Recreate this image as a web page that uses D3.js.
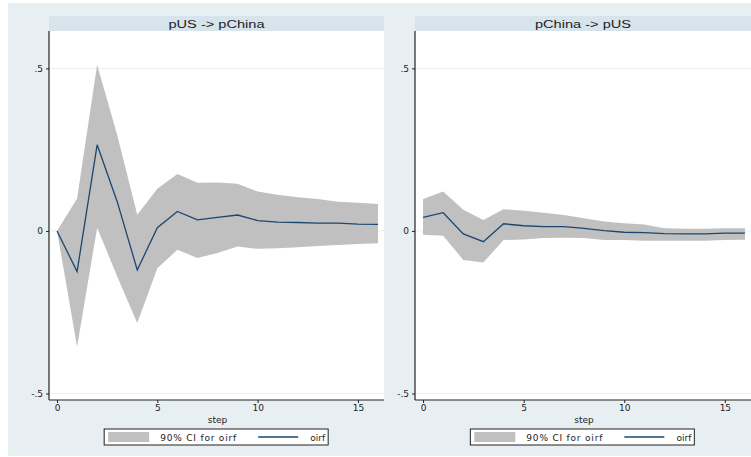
<!DOCTYPE html>
<html>
<head>
<meta charset="utf-8">
<script src="https://cdn.jsdelivr.net/npm/d3@7"></script>
<style>
  body { margin: 0; background: #fff; }
  svg { display: block; font-family: "DejaVu Sans", sans-serif; }
</style>
</head>
<body>
<div id="app"></div>
<script>
"use strict";

// impulse response steps
const steps = [0, 1, 2, 3, 4, 5, 6, 7, 8, 9, 10, 11, 12, 13, 14, 15, 16];

// pUS -> pChina
const usChinaOirf  = [0, -0.125, 0.265, 0.09, -0.12, 0.01, 0.06, 0.034, 0.042, 0.049, 0.032, 0.027, 0.026, 0.024, 0.024, 0.021, 0.02];
const usChinaUpper = [0, 0.10, 0.511, 0.295, 0.05, 0.13, 0.175, 0.148, 0.149, 0.145, 0.121, 0.111, 0.104, 0.098, 0.09, 0.087, 0.083];
const usChinaLower = [0, -0.356, 0.01, -0.14, -0.283, -0.115, -0.058, -0.083, -0.068, -0.048, -0.055, -0.053, -0.05, -0.046, -0.043, -0.04, -0.038];

// pChina -> pUS
const chinaUsOirf  = [0.042, 0.056, -0.009, -0.033, 0.022, 0.016, 0.013, 0.013, 0.008, 0.001, -0.004, -0.005, -0.008, -0.009, -0.009, -0.007, -0.007];
const chinaUsUpper = [0.098, 0.121, 0.065, 0.034, 0.067, 0.062, 0.056, 0.049, 0.039, 0.029, 0.024, 0.02, 0.008, 0.007, 0.007, 0.008, 0.008];
const chinaUsLower = [-0.012, -0.015, -0.089, -0.097, -0.028, -0.026, -0.022, -0.021, -0.022, -0.028, -0.028, -0.03, -0.03, -0.03, -0.03, -0.028, -0.027];

const xTicks = [0, 5, 10, 15];
const yTicks = [-0.5, 0, 0.5];
const yTickLabels = ["-.5", "0", ".5"];
const legendLabels = ["90% CI for oirf", "oirf"];

const panels = [
    { title: "pUS -> pChina", oirf: usChinaOirf, upper: usChinaUpper, lower: usChinaLower, left: 49, right: 384 },
    { title: "pChina -> pUS", oirf: chinaUsOirf, upper: chinaUsUpper, lower: chinaUsLower, left: 415, right: 751 }
];

const W = 751, H = 457;
const plotTop = 31, plotBottom = 400;
const bandColor = "#c0c0c0";
const lineColor = "#1a476f";
const bgColor = "#e8eff3";
const stripColor = "#d8e4eb";
const textColor = "#222";

const svg = d3.select("#app").append("svg")
    .attr("width", W)
    .attr("height", H);

// graph region background
svg.append("rect")
    .attr("x", 8).attr("y", 3)
    .attr("width", W - 8).attr("height", 453)
    .attr("fill", bgColor);

/**
 * Draws one irf panel
 *
 * @param {Object} p panel config
 */
const drawPanel = (p) => {
    const x = d3.scaleLinear().domain([-0.4, 16.3]).range([p.left, p.right]);
    const y = d3.scaleLinear().domain([-0.52, 0.615]).range([plotBottom, plotTop]);
    const g = svg.append("g");
    const cx = (p.left + p.right) / 2;

    // title strip
    g.append("rect")
        .attr("x", p.left).attr("y", 16)
        .attr("width", p.right - p.left).attr("height", plotTop - 16)
        .attr("fill", stripColor);
    // source text looks horizontally stretched, so scale x a bit
    g.append("text")
        .attr("transform", `translate(${cx},28) scale(1.27,1)`)
        .attr("text-anchor", "middle")
        .attr("font-family", "\"Liberation Sans\", Arial, sans-serif")
        .attr("font-size", 11.5)
        .attr("fill", textColor)
        .text(p.title);

    // plot region
    g.append("rect")
        .attr("x", p.left).attr("y", plotTop)
        .attr("width", p.right - p.left).attr("height", plotBottom - plotTop)
        .attr("fill", "#fff");

    // grid lines
    g.selectAll(".grid").data(yTicks).join("line")
        .attr("x1", p.left).attr("x2", p.right)
        .attr("y1", d => y(d)).attr("y2", d => y(d))
        .attr("stroke", "#edf2f5")
        .attr("stroke-width", 1.2);

    const rows = steps.map((s, i) => ({ s, v: p.oirf[i], hi: p.upper[i], lo: p.lower[i] }));

    // confidence band
    g.append("path")
        .datum(rows)
        .attr("fill", bandColor)
        .attr("d", d3.area().x(d => x(d.s)).y0(d => y(d.lo)).y1(d => y(d.hi)));

    // oirf line
    g.append("path")
        .datum(rows)
        .attr("fill", "none")
        .attr("stroke", lineColor)
        .attr("stroke-width", 1.3)
        .attr("d", d3.line().x(d => x(d.s)).y(d => y(d.v)));

    // axes
    const yAxis = g.append("g")
        .attr("transform", `translate(${p.left},0)`)
        .call(d3.axisLeft(y).tickValues(yTicks).tickSize(3).tickPadding(3)
            .tickFormat((d, i) => yTickLabels[i]));
    const xAxis = g.append("g")
        .attr("transform", `translate(0,${plotBottom})`)
        .call(d3.axisBottom(x).tickValues(xTicks).tickSize(3).tickPadding(2));
    [yAxis, xAxis].forEach(a => {
        a.select(".domain").attr("stroke", textColor).attr("stroke-width", 1.2);
        a.selectAll(".tick line").attr("stroke", textColor);
        a.selectAll("text").attr("font-size", 9).attr("fill", textColor)
            .attr("font-family", "\"DejaVu Sans\", sans-serif");
    });
    // stretch domains to plot edges
    yAxis.select(".domain").attr("d", `M0,${plotTop}V${plotBottom}`);
    xAxis.select(".domain").attr("d", `M${p.left},0H${p.right}`);

    g.append("text")
        .attr("x", x(8))
        .attr("y", 423)
        .attr("text-anchor", "middle")
        .attr("font-size", 9)
        .attr("fill", textColor)
        .text("step");

    // legend
    const lx = x(2.35), lw = 224;
    const leg = g.append("g").attr("transform", `translate(${lx},429)`);
    leg.append("rect")
        .attr("width", lw).attr("height", 16)
        .attr("fill", "#fff").attr("stroke", textColor).attr("stroke-width", 1);
    leg.append("rect")
        .attr("x", 4).attr("y", 3).attr("width", 41).attr("height", 10)
        .attr("fill", bandColor);
    leg.append("text")
        .attr("x", 56).attr("y", 11.5)
        .attr("font-size", 9).attr("fill", textColor)
        .attr("letter-spacing", 0.8)
        .text(legendLabels[0]);
    leg.append("line")
        .attr("x1", 154).attr("x2", 194).attr("y1", 8).attr("y2", 8)
        .attr("stroke", lineColor).attr("stroke-width", 1.3);
    leg.append("text")
        .attr("x", lw - 3).attr("y", 11.5)
        .attr("text-anchor", "end")
        .attr("font-size", 9).attr("fill", textColor)
        .text(legendLabels[1]);
};

panels.forEach(drawPanel);
</script>
</body>
</html>
